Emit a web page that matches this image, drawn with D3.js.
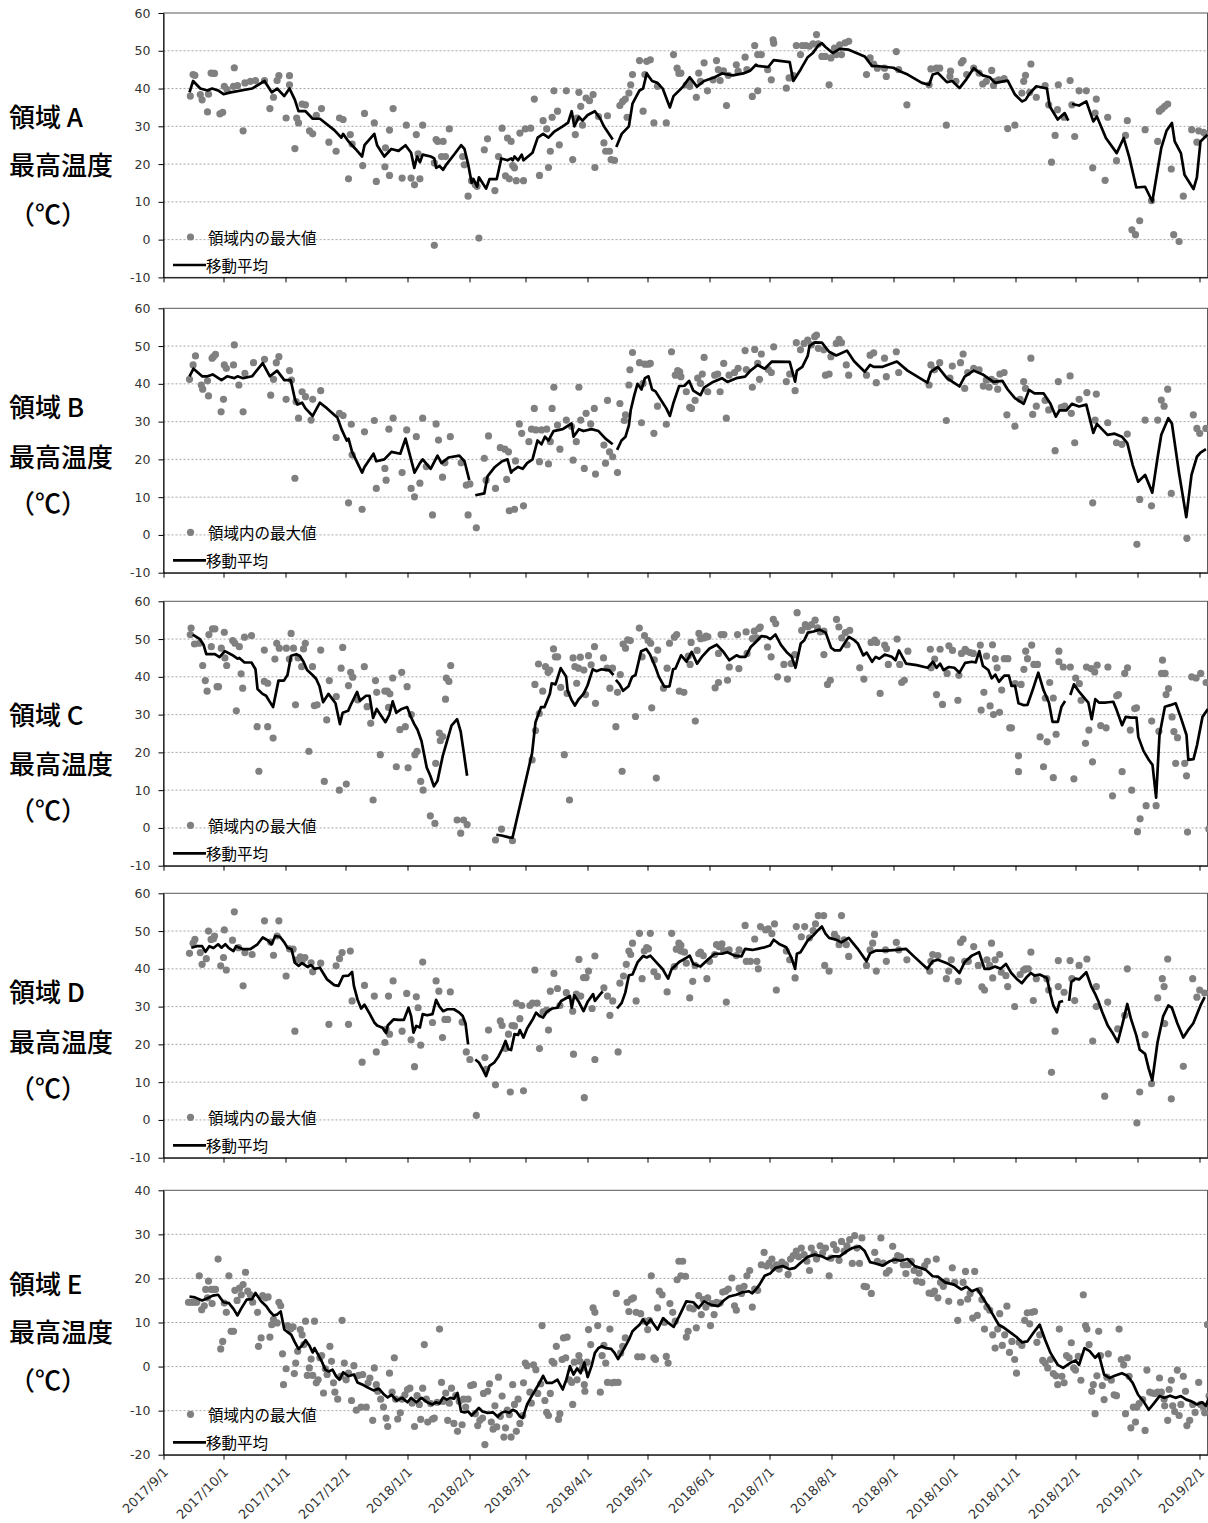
<!DOCTYPE html>
<html>
<head>
<meta charset="utf-8">
<script src="https://cdn.jsdelivr.net/npm/d3@7"></script>
<style>
  body { margin: 0; background: #fff; }
  svg { display: block; }
</style>
</head>
<body>
<svg id="chart" width="1208" height="1523"></svg>
<script>
// Daily maximum temperature per region (dots) and its moving average (line).
// Each point is [days since 2017/9/1, °C]; null breaks the line.
const startDate = new Date(2017, 8, 1);
const endDate = new Date(2019, 1, 5);
const regionNames = ["A", "B", "C", "D", "E"];
const yTicksMain = [-10, 0, 10, 20, 30, 40, 50, 60];
const yTicksE = [-20, -10, 0, 10, 20, 30, 40];
const titleLines = ["最高温度", "（℃）"];
const legendLabels = ["領域内の最大値", "移動平均"];

const maxTempA = [[13.4,38],[14.8,43.7],[15.7,43.5],[18.4,38.4],[19.3,37],[22,33.8],[22.5,38.5],[23.8,44.1],[25,44],[25.5,44],[28.2,33.3],[29.6,33.7],[30.4,40.6],[31.8,39.7],[35,40.6],[35.4,45.5],[37,40.8],[39.8,28.8],[40.7,41.5],[43.4,41.9],[46,42.1],[50.5,42.1],[53.2,34.7],[55,37.7],[56.8,42.1],[57.7,43.4],[61.3,32.2],[63,43.4],[63,41],[65.7,24.1],[66.6,32.2],[67.5,30.9],[69.3,35.9],[71,35.7],[73,28.8],[74.6,28],[76.4,32.9],[79,34.7],[82.7,25.8],[86.3,23.4],[88,32.2],[89.8,31.8],[93.4,27.8],[94.3,25.3],[92.5,16.1],[99.6,19.6],[100.5,33.4],[105.4,30.9],[106.4,15.4],[111,24.3],[110.7,19.3],[113,29],[113,17],[114.8,34.7],[119.3,16.3],[121.4,30.3],[123.8,16.3],[125.5,14.5],[126.4,27.8],[128.2,16.1],[129.6,30.3],[127.3,22.7],[135.4,20.3],[136.3,26.5],[137.1,26],[139.8,26],[139,22],[142.9,29.3],[141,22],[149.6,22],[150.4,19.8],[152.3,11.5],[154,15.6],[155.9,14.5],[156.8,14.1],[157.7,0.4],[160.4,23.8],[162,26.7],[165.7,13],[169.3,29.5],[167.5,22],[172,26.9],[173.8,26],[171,16.9],[172.9,16.1],[174.6,19.6],[175.5,19],[176.4,15.6],[180,15.6],[178.2,28.2],[180.9,29.3],[183.6,29.5],[185.4,37.2],[188,17],[189.8,31.5],[191.6,29.3],[192.5,19.1],[193.4,23.4],[194.3,32.4],[195.2,39.4],[197,34],[197.9,25.1],[201.4,39.4],[204.6,21.2],[205.9,27.8],[206.8,32.2],[207.7,39],[208.6,35.3],[209.5,30.3],[211.3,37.5],[213,36.8],[214.8,38.4],[215.7,19.1],[217.5,32.6],[220.2,25.6],[222,32.8],[221.1,23.4],[223,23.4],[223.8,21.2],[225.5,21],[228.2,35.5],[229.6,36.6],[230.9,37.2],[231.8,32.4],[232.7,38.8],[233.6,41],[234.5,43.7],[238,47.4],[239.8,34],[240.7,43.7],[241.6,47.2],[243.4,47.6],[245.2,30.9],[247,40.6],[251.4,30.9],[255,49],[256.8,45.4],[257.7,44],[135.4,-1.5],
[258.7,44.1],[261.4,41],[263.1,41.9],[263.1,40.6],[266.4,37.7],[267.6,44.1],[270.3,46.8],[268.5,41.9],[272,39.4],[274.8,42.3],[276.5,47.4],[277.4,45],[278.3,42.1],[280,44.7],[281.5,35.5],[282.4,43.5],[286.4,46.3],[287.3,44.6],[290.8,48.3],[291.7,45],[294.4,37.9],[295.6,51.4],[297.1,39.4],[297.1,49],[298.9,49],[302.1,45],[303.9,42.3],[304.8,52.9],[305.1,52],[311.4,40.1],[312.8,42.8],[315,43.4],[316.4,51.4],[318.5,49],[319.4,51.4],[321.2,51.4],[322.9,51.2],[324.8,51.8],[326.5,54.3],[327.4,51.8],[329.2,48.5],[330.9,48.5],[332.8,41],[333.7,48.1],[335.5,50.7],[336.4,49],[338.1,51.6],[339,49],[340.8,52.1],[342.6,52.5],[351.5,43.7],[353.3,48.1],[355.1,46.5],[356.9,45.4],[360.5,45.4],[361.4,43.2],[366.4,49.8],[367.6,45],[371.7,35.7],[382.8,41],[383.7,45.2],[386.4,45.4],[388.1,45.4],[391.4,30.3],[393.2,43.2],[393.5,44.6],[396.2,41.9],[398.9,46.8],[399.8,47.4],[401.6,43.7],[405.1,45.4],[407.8,44.1],[409.6,41.2],[411.4,41.9],[414.1,44.8],[415,40.8],[415.9,41.9],[417.6,42.3],[420.3,42.6],[422.1,29.4],[425.7,30.3],[429.2,38.8],[430.1,41.9],[431,43.5],[433.7,46.5],[433.1,39],[436.4,37.7],[440.8,40.8],[442.6,35.7],[444,20.5],[445.8,27.6],[447,34.4],[447.4,41],[450.3,32.4],[453.3,42.1],[454.2,35.7],[455.6,27.3],[457.8,39.4],[461.4,39.4],[464.6,19],[465.8,33.5],[466.4,37.2],[470.8,15.7],[472.1,32.4],[476.5,20.9],[481,27.6],[481.9,31.5],[484.2,2.6],[486,1.3],[488.1,5],[490.8,29.1],[494,10.3],[497.1,26],[497.9,34],[499.2,34.6],[500.6,35.3],[502.1,35.9],[503.9,18.7],[505.1,1.3],[507.8,-0.5],[509.9,11.5],[514.1,29.1],[516.7,25.8],[517.6,28.8],[520,28.4],[521.2,27.8]];

const movAvgA = [[13,39],[14.8,42],[18.4,40],[22,39.5],[24.3,40],[27.3,39.5],[30,38.5],[33.6,39],[44.3,40],[50.5,42],[54.1,39],[56.8,40],[60.4,38],[63,40],[65.7,37],[67.5,34],[71,34],[74.6,32],[78.2,32],[85.4,29],[88.9,27],[89.8,28],[92.5,26],[96,24],[99.3,22],[100.5,25],[105.4,28],[106.8,25],[110.4,22],[113.9,24],[117.5,23.5],[121,25],[123.8,23],[125.4,19],[126.8,22],[128.2,20.5],[129.6,22.5],[133.6,22],[135.4,21.5],[136.3,19],[138,19.5],[139.8,18.5],[141.6,20],[146,23],[148.8,25],[150.5,24],[152.3,20],[154.1,15],[155,16],[156.8,14],[157.7,16.5],[161.3,13.5],[163,16],[166.6,16],[168.9,21.5],[172,21],[173.8,21.5],[174.6,21],[175.5,22],[177.3,21],[179.1,22.5],[180,21],[184.5,23],[187.1,27],[189.8,28],[192.5,27],[195.2,28.5],[199.6,30],[202.3,31],[204.1,34],[205.4,30],[207.7,32.5],[209.5,31.5],[212.1,33],[215.7,34],[218.4,32],[220.2,30],[224.6,26.5],null,[226.4,24.5],[229.1,28],[232.7,30],[234.5,36],[238,39.5],[239.8,40],[241.6,44],[244.3,42],[247,41.5],[249.6,40],[251.4,37.5],[253.2,35],[255,38],[259.6,40.4],[263.1,43],[266.7,40.5],[270.3,42],[275.6,43],[279.2,44],[284.6,43.5],[289.9,44],[293.5,44.8],[296.2,46.3],[297.1,46],[302.4,45.7],[305.1,47.5],[313.1,47],[314.9,42],[318.5,45],[322.1,48.3],[324.8,49.5],[327.4,51.4],[329.2,52],[331,51],[334.6,49.4],[338.1,50.5],[342.6,50.3],[350.6,48.5],[354.2,46],[357.8,45.9],[364.9,45.5],[368.5,44.5],[372.1,43.7],[379.2,41.5],[382.8,41],[384.6,43.7],[387.2,44.1],[391.7,41.7],[394.4,42],[398,40.1],[401.5,42.5],[405.1,45.4],[409.6,43.5],[413.1,43],[415.8,41.5],[422.1,42.1],[425.6,38.5],[429.2,36.6],[431,37],[432.8,38.5],[436.4,40.6],[441.7,40],[443.1,35.3],[447.1,31.8],[450.6,33.5],[452.4,31.5],null,[454.2,35.9],[457.8,35.5],[461.4,36.6],[464.9,31.3],[466.7,32.6],[471.2,26.9],[476.6,22.9],[480.1,26.9],[482.8,22],[486.4,13.8],[490.8,14],[494.4,10.1],[498.9,24.3],[501.5,28.8],[504.2,30.9],[505.6,26],[508.7,22.9],[510.5,17.2],[515,13.4],[516.7,16.5],[518.5,26],[522,27.8]];

const maxTempB = [[13,41.2],[14.8,45],[16,47.4],[18.9,39.7],[19.6,38.6],[22,40.8],[22.5,36.8],[24.3,46.8],[25,47.2],[26,47.8],[28.8,32.6],[30,35.9],[30.4,45],[31.4,44.1],[35,45],[35.4,50.3],[37.7,39.7],[39.8,32.6],[40.7,42.8],[45,45.6],[50.5,46.5],[53.6,37],[55,41.2],[56.4,45.6],[57.7,47.2],[61.3,35.9],[63,43.5],[64,41],[65.7,15],[66.3,35.3],[67.5,30.9],[69.3,37.9],[71,36.6],[73.8,30.4],[74.6,35.9],[78.6,38.2],[86.3,25.8],[88,32.2],[89.8,31.6],[92.5,8.5],[93.9,29.3],[94.3,21.2],[99.3,6.8],[100.5,27.3],[105.4,30.3],[106.4,12.3],[110.7,17.6],[111.3,14.5],[112.7,28],[114.8,30.9],[119.3,16.5],[121.6,27.8],[123.8,12.3],[125.5,10.1],[126.4,26],[128.2,13.7],[129.6,30.9],[131.4,18.1],[134.5,5.3],[136.3,29.4],[137.5,25.1],[139.5,15.3],[140.7,19.1],[143.4,26],[148.8,19.1],[151.4,13.2],[152.3,5.3],[153.2,13.5],[156.4,1.9],[160.4,20.3],[161.3,14.5],[162.5,26.2],[166,12.3],[168.4,23.1],[170.7,22.7],[172.5,22],[171.6,14.7],[172.9,6.4],[175.5,6.8],[176,19.6],[177.9,29.4],[179.1,26.9],[180,7.7],[182.7,24.7],[184,28],[185.4,33.5],[186.2,27.8],[188,19.4],[189,27.8],[191.6,28],[192.5,18.8],[193.4,24.7],[194.3,33.5],[195.2,39.1],[197,29.1],[198.2,22.7],[201.4,30.4],[204,28.7],[204.8,19.8],[206.4,24.7],[207.7,39.1],[208.6,30.4],[210.4,17.6],[211.3,32.2],[213.6,29.4],[215.4,33.5],[216,16.1],[220.2,23.8],[221,19],[222,35.6],[223,22],[224.6,20.7],[227,16.5],[228.2,34.8],[230.4,30.3],[231,31.8],[232.7,39.7],[233.2,43.7],[234.5,48.3],[239,29.7],[238,45.6],[239.8,40.1],[240.7,45.2],[242.5,45.2],[243.4,45.4],[245.2,26.9],[247,34.1],[251.4,29.3],[254,48.5],[255.9,42.3],[257.1,43.5],
[258.1,43.2],[258.7,41.9],[261.4,37.9],[263.1,33.8],[264,33.5],[265.8,35.6],[267.1,41.5],[268.5,40.1],[269.4,42.6],[270.3,47],[272.1,37.9],[275.6,42.3],[277.1,42.6],[278.3,37.9],[280.1,45.4],[281.4,30.9],[282.8,42.3],[285.5,43],[287.3,44.1],[290.8,48.8],[291.4,43.8],[294.4,39.1],[295.6,49.1],[297.1,45.4],[298,41.2],[298.9,47.9],[302.4,43.8],[303.9,43],[305.1,49.8],[311.4,40.6],[313.1,42.6],[315.8,38.2],[316.4,50.9],[318.5,49],[320.3,50.7],[322.1,51.6],[323.9,50.3],[325.6,52.5],[326.5,52.9],[327.4,49.4],[330.1,49],[331,42.3],[332.8,42.6],[333.7,47.2],[336.4,50.7],[337.8,51.8],[339,50.9],[341.4,45],[342.6,42.3],[351.5,42.3],[353.3,47.6],[355.1,48.2],[356.4,40.3],[360.5,46.8],[361.4,41.9],[366.4,48.5],[367.6,43],[382.8,39.7],[383.7,45],[385.5,43.7],[388.1,45.6],[391.4,30.3],[393.2,41.5],[394.4,44.7],[398.5,45.6],[399.8,47.9],[400.6,38.8],[402.1,43],[405.1,44.1],[407.8,43.7],[409.9,39.4],[411.4,41],[412.8,39.1],[414,41.2],[415.9,40.6],[417.1,38.6],[418.2,42.6],[420.3,43],[421.7,31.8],[425.7,28.8],[428.3,35.9],[430.1,40.6],[431,38.8],[433.7,46.8],[434.6,31.9],[436.4,34.1],[440.8,35.6],[442.6,33.1],[445.8,22.3],[447.4,40.6],[448.9,33.8],[450.6,34.1],[453.3,42.1],[453.9,32.2],[455.6,24.4],[457.8,35.9],[461.7,37.7],[464.6,8.5],[465.8,30.4],[466.4,37.3],[472.1,29.7],[476.5,24.4],[479.2,24],[481.9,26.7],[486.7,-2.5],[488.1,9.4],[490.8,30.4],[494,7.7],[497.1,30.4],[498.9,35.7],[500.3,34.1],[502.1,38.6],[503.9,11],[511.7,-0.9],[514.9,31.8],[516.7,28.2],[518.1,26.9],[521.2,28.2]];

const movAvgB = [[13,42],[15,44],[19.3,42],[22,42],[24.6,42.5],[29,41],[31.8,42],[35.4,41.5],[37,42],[39.8,41.5],[44.3,42],[49.6,45.5],[53.2,42],[56.8,43.5],[60.4,41],[63.6,41],[65.7,36],[67,34.5],[69.3,35],[71,33.5],[74.6,31.5],[78.2,35],[81.8,33.5],[87,31],[89,28],[91.6,25],[92.5,25.5],[94.3,22],[97,19],[99.3,16.5],[100.5,18],[105,21.5],[106.4,19.5],[110.4,20],[114,22],[118.4,21.5],[121,25.5],[123,21.5],[125.5,16.5],[128.2,19],[129.6,20],[133.6,17.5],[137,21],[139,19],[142.5,20.5],[147.9,21],[150.5,19.5],[152.9,14.5],null,[155.9,10.5],[160.4,11],[162,15.5],[165.7,18],[169.3,19.5],[172,20],[173.8,16.5],[174.6,17],[177.3,18],[179.6,17.5],[181.8,19],[184.5,20],[187,25],[189,24],[190.7,26],[192.5,25],[195,27.5],[199.6,28],[204,29.5],[205,26],[207.7,28],[210,27.5],[214,28],[217.5,27.5],[221,25.5],[224.6,24],null,[226.8,22.5],[229,25],[231,26],[232.7,29],[233.6,33],[235.4,37],[237,40],[239,38.5],[240.7,41.5],[242.5,42],[244.3,38.5],[246,38],[249.6,35],[251.4,33.5],[253.2,31.5],[255,35],[257.8,39.4],[260.5,39.5],[262.8,40.8],[264.9,38.2],[268.5,37],[270.3,39],[274.8,40.5],[279.2,41.5],[281.9,40.5],[286.4,41.5],[290.8,41.9],[293.5,43.5],[297.1,45],[300.6,44],[304.2,45.9],[313.1,45.8],[315.8,40.6],[316.7,43.5],[319.4,44.5],[322.1,47.4],[323,50],[325.6,51],[329.2,50.9],[332.8,48.5],[336.4,47.5],[341.7,48.8],[345.3,46],[350.6,43.2],[353.3,45],[355.1,44.5],[359.6,44.5],[366.7,45.9],[372,43.5],[381.9,40.3],[383.7,43.2],[387.2,44.5],[391.7,41.5],[398,39.3],[400.6,41.9],[405.1,43.5],[409.6,42.5],[415,40.5],[419.4,40.8],[422.1,38.5],[425.7,36.2],[430.1,34.7],[432.8,38.4],[435.5,37.5],[440,37.5],[443.5,34.7],[446.2,31.3],[448,33],[451.5,33],[454.2,34.7],[457.8,34],[461.4,34.5],[464.9,27],[466.7,29.4],[472,26.5],[475.6,26.8],[479.2,26],[481.9,24.3],[484.6,18.5],[487.3,14.1],[490.8,15.9],[494.4,11.2],[497.1,20.7],[498.9,26.5],[502.4,30.9],[504.2,29.5],[507.8,16.3],[511.4,4.7],[514,15.9],[516.7,20.7],[518.5,21.8],[521.2,22.7]];

const maxTempC = [[13.8,52.9],[13.4,51.2],[15.5,48.7],[17.9,48.9],[19.6,43],[20.9,39],[21.8,36.2],[22.7,51.2],[23.9,48],[24.5,52.7],[25.7,52.7],[26.8,37.4],[27.5,37.4],[28.9,47.6],[30.4,51.8],[30.7,45],[31.6,43],[34.6,49.6],[35.7,48.9],[36.4,31],[37.9,48],[38.8,40.8],[39.6,37],[40.5,50.5],[44,50.9],[46.8,26.8],[47.7,15],[50.4,47.1],[50.4,38.8],[52.1,38.3],[52.1,26.8],[54.8,23.8],[55.7,44.7],[56.6,48.9],[57.9,47.6],[61.4,47.6],[62.9,44.7],[63.8,51.5],[65,47.6],[66,32.6],[67.3,45],[69.1,42.7],[70,47.4],[70.9,48.9],[72.7,20.3],[74.5,42.7],[75.4,32.4],[76.8,32.6],[78.6,47.1],[80.4,12.3],[81.6,28.6],[82.9,39],[86.4,34.8],[87.9,10],[88.8,42.3],[89.6,47.8],[91.4,11.6],[92.5,37.7],[93.6,41.2],[94.6,39.9],[97.1,33.9],[100.4,42.7],[101.8,32.1],[103.6,27.7],[104.8,7.4],[106,39],[106.6,35.9],[108.4,19.4],[110.7,36.2],[111.9,36.2],[112.5,31.9],[113.2,35.5],[114.6,39.7],[116.4,16.2],[118.2,26],[119.1,41.2],[120.9,26.8],[121.8,37.4],[122.3,15.9],[123.9,30],[125.7,19.4],[126.8,20.3],[128.6,12.3],[129.8,10],[133.4,3.2],[136.1,17.1],[135.7,1.2],[137.9,25.1],[138.4,23.1],[139.6,24.2],[141,34.1],[141.4,39.7],[142.7,38.8],[143.6,43],[146.8,2.1],[148.6,-1.4],[150,2.1],[151.8,0.9],[166,-3.2],[169,-0.3],[174.5,-3.4],[184.3,18],[186,25.8],[185.7,38],[187.9,30.3],[187.5,43.4],[189.6,36.2],[191,42.7],[192.3,41.2],[193.2,41.8],[195,47.4],[195.9,45.3],[197.1,45.3],[198.6,37.2],[200.4,19.4],[201.8,35.6],[203,7.4],[204.8,45],[205.7,42.7],[206.6,38.3],[207.5,42.3],[208.4,45.2],[210.2,41.8],[211,35.3],[212.5,45.6],[213.8,43.2],[215.5,48],[216,33],[220,45],[221.8,42.3],[223.2,37],[224.5,42.3],[226.2,26.8],[227,35.9],[228.4,40.6],[229.3,15],[229.8,48.7],[231,47.6],[232.1,49.8],[233.4,49.6],[236,29.5],[237.9,52.9],[239.3,45.3],[240.5,50.9],[242.3,49.6],[243.6,48.9],[244.1,31.8],[245.4,44.5],[246.4,13.2],[247.1,47.1],[250,37],[251.8,42.3],[253,48.9],[255.4,50.5],[256.6,51.2],[257.9,36.2],
[260.2,35.9],[262.4,45.5],[263.3,43.3],[263.8,49.1],[265.9,28.3],[266.8,47],[267.7,51.5],[268.6,50.1],[270.4,50.3],[271.3,50.8],[272.2,50.6],[275.8,37.1],[277.5,38.5],[277.5,46.2],[278.8,51.2],[280.2,51.2],[282,39.1],[282.9,42.6],[287,51.2],[287.7,42.2],[291.3,51.9],[291.8,46.2],[294.5,50.1],[295.4,52.1],[296.6,50.3],[297.7,52.8],[298.4,53.2],[302,47.9],[303.8,45.3],[304.9,55.2],[306.1,54.1],[307,40],[310.2,43.3],[312,39.4],[313.8,43.5],[315.6,45.9],[316.8,57],[319.1,52.3],[320.9,53.8],[322.2,53.2],[324,53.8],[325.8,55],[327,53],[328.4,51.9],[330.2,52.1],[330.2,45.9],[332,38],[333.4,39.1],[336.5,55.2],[337.7,53.2],[339.1,50.3],[340.9,51.7],[341.8,48.5],[343.1,52.3],[348.1,42.4],[350.2,39.4],[353.8,49.1],[355.6,49.7],[356.6,49.1],[358.3,35.6],[360.6,48.4],[361.5,47.5],[362.4,43.3],[366.8,50],[368.1,43.3],[369.1,38.5],[370.4,39.1],[372.2,46.8],[383.4,47.3],[383.8,42.4],[385.6,44.7],[386.5,35.3],[388.3,47.3],[389.5,32.7],[391.8,40.9],[392.7,48.2],[394.5,47],[397.2,33.8],[397.7,40.4],[399,46.2],[400.8,47.3],[401.6,46.8],[403.4,46.4],[404.9,46.2],[408.4,48.4],[408.8,31.2],[410.2,35.9],[411.5,45.5],[413.3,32.3],[414.5,48.5],[415,30],[415.9,44.8],[416.8,42.4],[418,30.6],[419.1,36.5],[420.4,44.8],[422.2,44.8],[423.1,26.5],[424,26.5],[425.8,38.2],[427.5,19.1],[427.5,14.9],[428.8,38],[430.2,42],[431.1,46.8],[432,44.8],[434.1,48.4],[435.2,43.3],[437,43.3],[438.3,24.1],[440,16.2],[440.9,34.4],[441.8,22.8],[443.1,38.5],[444.9,34.4],[444.9,13.3],[446.3,24.8],[447.7,46.8],[447.7,44],[449.9,42.6],[453.4,42.6],[455.2,13],[456.1,39.7],[457.9,38.2],[458.8,33.8],[461,22.4],[461.5,42.6],[462.7,25.9],[463.8,42.2],[464.5,17.5],[465.6,41.3],[466.8,43.1],[468.6,27.1],[471.3,26.5],[472.2,42.6],[474.5,8.5],[476.6,35],[477.5,35.3],[479.3,14.9],[480.6,40.9],[482,42.4],[483.4,25.9],[484.1,10],[485.6,31.6],[486.5,31.8],[487,-1],[488.3,2.4],[491.3,5.9],[494.1,28.3],[496.3,5.9],[497.7,25.6],[499,40.9],[499.5,44.4],[500.8,40.9],[501.3,35.3],[502.5,36.9],[504.3,29.4],[505.2,25.5],[506.1,17.1],[507,23.9],[510.6,17.1],[511.5,13.8],[512,-1.1],[514.1,40],[516.3,39.7],[518.6,40.9],[521.3,38.5],[522.7,-0.3]];

const movAvgC = [[14.6,51.2],[18.2,50],[20,48.5],[21.4,46],[23.6,46],[25.7,46],[28,45.2],[30.7,46.8],[34.3,45.8],[37,44.8],[37.9,45],[40.5,43.8],[44,43.8],[46,42],[47,36.8],[49.5,35.5],[51.3,35],[53,33.5],[54.8,32],[57.5,39],[60.2,39],[62,40.5],[63.8,45.6],[66.4,46],[68.2,45.5],[70,44],[71.8,41.8],[74.5,40.5],[76.3,39.5],[78,37.5],[79.8,33.3],[82.5,35.5],[86,33],[88.2,27.5],[89.6,30.5],[92.3,31],[94,33],[96.8,36],[98.2,33.7],[101.3,35],[103,35],[104.8,29.1],[106.6,31.5],[108.4,30],[111,28],[112.9,30],[114.6,33.5],[116.4,30.5],[119.1,31.5],[121.8,32],[123.6,29.5],[125.4,27.5],[127,26],[129,23],[131.6,16],[133.4,13.8],[135.2,11],[137,12.5],[139.6,19],[142.3,24],[144,27.1],[146.8,28.8],[148.6,25.5],[150.4,19],[151.8,13.8],null,[166.4,-1.8],[169,-2],[172.7,-2.5],[174.5,-2.6],[184.3,19.8],[186,28],[188.8,32],[190.5,32],[193.2,35.5],[194.1,38.3],[196,38],[198.6,42.3],[201.3,40.1],[202.1,36.3],[204,33.9],[205.7,32.4],[207.5,34],[210,35.5],[212,37.7],[214.6,42],[216.4,41.5],[219,42],[222.7,41.8],[225,40.5],null,[226.2,39.2],[228,38.1],[229.8,36.3],[232.5,37.5],[234.3,40],[236,40.5],[238.8,46.8],[241.4,47.4],[243.2,46],[246,42.5],[247.7,40],[250.4,37.4],[253,37.5],[254.8,42],[256,42.2],[258.8,45.7],[261.5,44],[264.1,46.6],[266.8,43.5],[269.5,45.5],[273,47.5],[276.6,48.5],[280,46.6],[282.9,44.4],[286.5,45.7],[288,45.3],[291,45.3],[293.6,47.9],[296.3,49.3],[299,50.8],[301.6,50.6],[303.4,50],[306,51.2],[308.8,48.4],[311.5,46.6],[314.1,45.3],[316,42.4],[318.6,48.8],[320.4,49.7],[322.2,51.7],[325,52],[328,52.5],[331.1,51.7],[333.8,47.7],[335.6,47],[338.3,47],[341,49.3],[342.7,50.6],[345.4,49.7],[347.2,48.8],[349.9,45.7],[351.6,46.4],[354.3,44],[356.1,45.3],[357.9,44.8],[360.6,45.9],[364.1,45.3],[366,44.4],[367.7,47],[371.3,43.5],[376.6,43.1],[382,42.4],[384.7,44],[386.5,42.4],[388.3,43.5],[390,41.8],[392.7,42.6],[395.4,42.4],[398,41.1],[400.8,43.7],[404.3,44],[406.1,43.8],[407.9,46.8],[409.7,42.9],[412.4,41.8],[414.1,39.6],[415.9,40.6],[417.7,38.7],[420.4,40.3],[422.7,40.3],[424,37.6],[425.8,37.6],[427.5,33],[430.2,32.5],[432,32.6],[434.7,36.7],[437.4,41.1],[440,36.5],[442.7,33.2],[444.5,28.1],[447.2,28.1],[449,32.1],[450.8,33.6],null,[453.4,35.2],[455.2,38],[457.9,36],[460.6,34.3],[462.4,33.2],[464.1,28.8],[465.9,34.1],[467.7,33.2],[471.3,33.2],[474.9,33.4],[476.6,31.2],[479.3,27.2],[481.1,29.4],[483.8,29.2],[486.5,29.2],[487.4,24.1],[490,20.4],[492.7,18],[494.5,16.7],[496.3,8],[498,24.6],[500.7,32.1],[503.4,32.5],[506.1,33],[508.8,29],[511.5,24.6],[512.4,18],[515,18.2],[516.8,22],[519.5,29.4],[522.2,31.5]];

const maxTempD = [[13,44.1],[14.8,46.8],[15.7,47.8],[18.4,44.3],[19.3,41.2],[21.4,42.7],[22.5,50],[23.8,47.8],[25,48],[25.5,48.7],[28.6,40.8],[30,43],[30.4,50.3],[31.4,39.7],[34.5,47.6],[35.4,55.1],[37.5,45.6],[39.8,35.5],[40.7,44.3],[44.3,43.8],[50.5,52.7],[53.6,47.1],[55,43.6],[56.8,48.7],[57.7,52.7],[61.3,38.1],[63,45.3],[64.8,45.2],[65.7,23.5],[66.4,42.3],[68.4,43.2],[69.3,42.1],[70.7,43],[73.8,41.6],[74.6,39.2],[78.6,41.5],[82.7,25.3],[86.3,40.8],[88,42.7],[89.3,44.3],[92.5,25.3],[93.4,44.7],[94.3,31.5],[99.3,15.3],[100.5,35.6],[105.4,32.8],[106.4,18],[110.7,20.5],[111.3,24],[112.5,32.8],[113,22.7],[114.8,36.8],[119.3,23.5],[121.6,33.5],[123.8,21.2],[125.5,14.1],[126.4,32.6],[127.3,29.7],[128.6,19.8],[129.6,41.8],[134.5,25.8],[136.3,36.8],[137.7,34.1],[139.5,21.8],[140.7,26.6],[142.1,26.6],[143.4,33.9],[149.3,25.9],[151.4,18],[153.2,16],[156.4,1.2],[160.7,16.5],[161.3,13.4],[162.5,23.8],[166,9.3],[168.4,26.2],[169.3,25],[171,18.9],[172.5,22.7],[173.4,7.4],[174.3,25],[175.5,24.9],[176.4,30.9],[178.2,26.8],[179.1,30.3],[180,7.7],[183.2,30.3],[184.5,30.9],[185.7,39.7],[186.8,30.9],[188,18.9],[189.8,28.6],[191.6,29.1],[192.5,23.8],[193.4,34.1],[195.2,38.8],[197,34.8],[198.2,30.3],[201.4,33.7],[204.6,28.8],[205,17.4],[206.4,33.3],[207.7,42.5],[208.6,32.8],[210,37.7],[210.4,5.9],[211.3,37.7],[212.5,39.4],[214.3,29.5],[215.7,16],[215.7,43.4],[220.2,35],[222,32.8],[223.2,27.7],[224.6,31.5],[227.3,18],[228.2,36.2],[230,38.1],[231.4,41.2],[232.7,44.7],[233.6,43.8],[234.5,46.8],[236.3,31.5],[238,49.4],[239.3,37.4],[240.4,44.7],[241.6,45.6],[242.5,45.3],[243.4,49.4],[245.2,39.2],[247,38],[251.8,33.9],[254.1,49.4],[255.4,40.6],[256.4,45.2],[257.7,46.8],
[258.7,46.2],[258.7,44.7],[260.5,44.4],[261.4,41.5],[263.1,32.3],[264.6,36.7],[265.8,40.9],[267.6,44],[268.5,44.4],[269.9,43.5],[271.7,37.4],[273,42],[275.6,43.8],[276.5,46.4],[277.8,45.9],[279.2,46.6],[280.1,44.8],[281.4,31.2],[282.8,45],[286.4,43.5],[287.8,45],[290.8,51.5],[291.4,42],[293.5,42],[295.6,47.9],[296.7,42],[297.4,40],[298.5,51.2],[301,50.3],[302.4,50.6],[304.2,49.3],[305.5,51.9],[306.4,34.4],[311.4,44.7],[313.1,42.4],[315.8,37.6],[316.4,51.2],[318.9,48.5],[320.6,51.2],[323,48.2],[324.8,50.1],[326,51.9],[327.4,54.1],[330.1,54.1],[330.6,40.9],[332.8,39.4],[335.5,49.1],[336.7,48.2],[337.8,46.4],[339,54.1],[340.3,47.7],[341.4,46.4],[342.6,43.3],[351.5,40.9],[353.3,45],[354.6,46.8],[355.5,49.1],[356.4,39.4],[361,45],[361.4,42],[366.4,47],[367.6,45],[371.7,42.4],[383.1,39.4],[383.7,42],[384.6,43.8],[387.2,43.5],[391.4,37.4],[392.6,39.4],[393.9,42.4],[397.4,36.7],[398.5,47],[399.8,47.9],[400.6,42],[402.4,42],[405.1,45.9],[407.4,40.9],[409.2,35.2],[410.5,34.4],[411.7,42.4],[413.1,40.9],[414,46.8],[414.6,37.6],[415.8,42.4],[418.1,43.8],[418.9,39.1],[421.2,38.2],[422.1,35.3],[425.6,30],[428.3,38.5],[430.1,39.7],[431,40],[432.4,40],[433.7,44.4],[434.9,31.6],[436.4,37.4],[441.7,37.4],[442.6,34.4],[444,12.6],[445.8,23.5],[447.4,42.2],[447.4,35.3],[450.3,33.8],[453.3,42.2],[454.2,37.4],[455.6,31.6],[457.8,40.9],[461.7,42.6],[464.6,20.9],[466.4,35.3],[466.4,30],[470.6,6.3],[472.1,31.2],[477.1,24.1],[480.6,27.7],[481.9,40],[486.7,-0.8],[488.1,7.4],[490.8,22.6],[494,9.6],[497.1,32.3],[499.4,37.4],[500.3,35.3],[500.6,25.5],[502.1,42.6],[503.9,5.6],[509.9,14.2],[514.6,37.4],[516.7,32.5],[518.1,34.4],[520.6,33.6]];

const movAvgD = [[13.9,45.6],[16.6,46],[19.3,46],[21,44.5],[22.9,46],[25,45.5],[27.3,46.5],[29,45.6],[30.9,46.5],[32.7,45.5],[35,44.7],[36.3,46],[39.8,45.2],[43.4,45.2],[47,46.5],[49.6,48.3],[52.3,47.5],[54,46.5],[55.9,48.7],[58.2,48.5],[60.4,47],[62,45.6],[64,45.2],[65.7,41.6],[67.5,40.8],[69.3,41.5],[72,40.5],[73.8,41],[75.5,40],[78.2,40.3],[81.8,37.2],[85.4,35.7],[87.5,35.5],[89.8,38.1],[92.5,38.2],[94.3,39.2],[95.2,35.5],[97,31.9],[98.8,29.5],[100.5,30.5],[103.2,28],[105.4,25.8],[106.8,25],[109.5,24.4],[111.3,23],[112.1,25],[115,26.6],[117.5,26.5],[120.2,26.5],[122.5,29.7],[123.8,27.5],[125,23.1],[126.4,24.9],[128.2,24.5],[129.6,28],[131.8,27.7],[134.5,28],[136.3,31.8],[138,30],[139.8,28.8],[142,29.3],[145.2,29.3],[147.9,28.4],[149.6,27.5],[151,25.6],[152.3,20],null,[155.9,16],[157.7,15.2],[159.5,13.5],[161.3,11.6],[163,14.3],[165.4,15.2],[167.5,16.8],[169.3,18.7],[171,20.9],[172.5,18.7],[173.8,18.5],[175.5,22.7],[177.3,22.5],[178.2,23.8],[180,21.8],[181.8,24.2],[184.5,26.5],[186.3,28.4],[188,27.5],[189.8,27.1],[191.6,28.6],[194.3,29.5],[197,29.7],[198.8,31.5],[203.2,32.8],[204.1,29.7],[205.4,33],[207.7,31.2],[210,28.8],[212,31.2],[214.8,33.3],[215.7,31.5],[218.4,33.3],[219.6,34],null,[226.8,29.5],[229.1,31],[230.9,33.7],[232.7,38.3],[234.5,38.5],[237.1,41.8],[239.8,43.4],[241.6,43],[243.4,43.5],[246,42],[249.6,39.9],[252.3,37.4],[254.1,40],[255.1,40.4],[257.8,41.8],[261.4,42.9],[263.1,43.5],[264.9,41.3],[268.5,40.6],[272.1,42.4],[275.6,44],[279.2,44],[281.9,44.4],[285.5,43.5],[289,43.3],[290.8,45.3],[294.4,45],[297.1,45.3],[300.6,45.7],[303.3,46.2],[305.1,47.7],[307.8,46.6],[311.4,45.7],[314,42.9],[315.8,40],[316.7,44],[318.5,44.4],[322.1,47.5],[324.8,48.8],[327.4,50.3],[329.2,51.2],[331,49.3],[332.8,48.2],[336.4,47.7],[339,47],[342.6,48.2],[347.1,45.3],[351.5,42],[353.3,44.1],[356,44.8],[361.4,44.8],[366.7,45],[371.2,45.3],[375.6,43.1],[381.9,40],[384.6,42],[387.2,42.4],[391.7,41.5],[395.3,40.4],[398,38.9],[400.6,41.8],[404.2,43.5],[407.8,44.4],[410.5,40],[413.1,40],[415.8,40.6],[418.5,40],[421.2,41.3],[423.9,38.9],[426.5,37.4],[429.2,36.2],[431.9,38],[433.7,38.9],[435.5,38.2],[438.1,38.5],[441.7,37.6],[443.5,33.2],[444.9,30.3],[446.7,28.5],[448,31.2],[449.8,31.5],null,[452.8,31.5],[453.9,36.5],[456,37.4],[457.8,37.2],[461.4,39.1],[464,35.2],[465.8,33.4],[467.6,31.2],[469.4,28.5],[472.1,25],[474.8,22.8],[477.1,20.6],[479.2,24.8],[481.9,30.7],[483.7,26.8],[486.4,22.4],[488.1,18.6],[490.8,17.5],[492.6,13.6],[494.4,10.5],[497,20.5],[499.8,27.4],[502.4,30.3],[504.2,29.7],[506.9,25.6],[509.9,21.8],[512.2,23.7],[514.9,25.6],[518.5,30.3],[520.6,32.5]];

const maxTempE = [[12.5,14.6],[13.9,14.6],[15.4,14.6],[16.6,14.6],[17.9,20.6],[19.1,12.9],[20.4,13.8],[21.1,17.5],[22,15.6],[22.5,19.4],[23.8,17.5],[24.3,14.3],[25,17.5],[26,17.5],[27.3,24.4],[28.6,4],[29.6,5.7],[30.4,14.4],[31.4,12.3],[32.7,20.6],[33.8,8],[35,8],[35.7,17.3],[36.8,15],[38,17.8],[38.9,16.3],[39.8,18.6],[41,21.4],[42.1,17.1],[43.4,16.3],[44.6,14.6],[47,12.3],[47.5,4.6],[48.8,6.5],[49.6,16.1],[51,15.6],[52.3,15.8],[53.2,6.7],[54.1,9.5],[55,10.7],[56.8,9.9],[57.7,14.6],[58.6,13.8],[59.5,2.9],[60,-4.1],[61.3,-0.5],[62.1,9.3],[63.6,8.5],[64.8,9],[65.4,-1.6],[66.1,0.8],[67.1,3.5],[68.4,8.4],[69.3,7.2],[70.2,5],[71,10.3],[71.9,-2],[72.9,-0.3],[73.8,1.7],[74.6,-2],[75.5,10.3],[76.4,-3.7],[77.3,-3],[78.2,2],[79.1,2.5],[80,-6],[80.9,-0.5],[81.8,-1.8],[83.2,4.6],[84,1.2],[85,-3.7],[85.7,-5.8],[87.1,-7.4],[88.6,-2.2],[89.3,10.5],[90.4,0.8],[91.3,-3],[92.5,-1.5],[94,-7.7],[95.2,0.2],[96.4,-9.9],[97.5,-2],[98.8,-9.2],[99.6,-1.8],[101.4,-9.2],[102.3,-3.7],[103.2,-2.6],[104.6,-12.2],[105.4,-0.3],[106.4,-4.1],[107.1,-5.6],[108.6,-7.4],[110,-9.2],[111.3,-11.7],[112.1,-13.6],[113,-1.5],[114.3,-5.8],[115.4,2],[116.1,-7.4],[117.1,-11.9],[118.4,-10.5],[119.3,-7.4],[120.7,-6.4],[122,-5.2],[123.2,-4.9],[124.3,-8.3],[125.5,-13.6],[126.8,-6.6],[127.9,-8.6],[128.6,-12],[129.6,-4.9],[130.4,5],[131.4,-7.4],[132.1,-12.6],[133.6,-8.4],[134.5,-11.9],[135.4,-11.7],[136.8,-8.1],[138,8.5],[139,-3.6],[139.8,-7.9],[141.1,-6],[142.1,-12.2],[142.9,-8.3],[144,-4.9],[145.2,-12.9],[146.1,-6.6],[147,-14.7],[147.9,-7.9],[149.3,-13.2],[150,-7.4],[151.1,-9.2],[152.3,-7.4],[153.6,-4.3],[155,-4.1],[155.9,-10.7],[157.1,-13.4],[158.2,-12.2],[159.5,-11.7],[160,-6.1],[160.7,-17.7],[162.1,-5.6],[163,-3.9],[163.9,-12.6],[164.8,-14.2],[165.7,-8.9],[166.6,-13.7],[167.5,-2.4],[168.4,-11.3],[169.3,-6.7],[170.2,-16],[171,-13.9],[171.9,-9.9],[172.9,-10.9],[173.8,-16],[174.6,-4.1],[175.5,-8.6],[176.4,-14.7],[177.3,-7.4],[178.2,-12.9],[179.6,-11.1],[180,-3.7],[180.9,0.8],[181.8,0.2],[183.2,-5.8],[183.9,-8.3],[185,0.4],[186.2,-0.7],[187.1,-6.1],[188.6,-3.9],[189.3,9.3],[190.7,-7.7],[191.6,-10.4],[192.5,-11.1],[193.4,-6.1],[194.3,1.2],[195.2,0.8],[196.4,4.6],[197.5,-12],[198.2,-10.7],[199.3,1.6],[200,6.5],[201.1,2],[201.8,6.7],[202.9,-3],[204.1,-3.6],[204.6,-8.6],[205.4,1],[206.8,-3],[207.7,2.5],[208.2,1.2],[209.5,-0.3],[210.4,-4.1],[210.7,-5.6],[211.8,1],[212.5,8.4],[213.6,5],[214.8,13.3],[215.7,12.3],[217.1,9.3],[218.4,-5.8],[219.3,2.5],[220.2,4.8],[221.1,0.8],[222,-3.6],[223.2,8.5],[224.3,-3.7],[225.5,-3.6],[226.4,16.6],[227.3,-3.6],[228.6,3.1],[229.6,4.6],[230.9,6.5],[231.8,14.6],[232.7,12.5],[233.9,15.3],[235,15.6],[236.3,12.3],[237.1,2.2],[238.6,12],[239.3,2.2],[240.4,10.3],[242.1,8.4],[242.9,10.5],[243.9,20.6],[245.2,2],[246,1.6],[247,13.3],[247.9,17.1],[249.3,16.3],[250.5,10],[251.4,2.3],[252.3,0.8],[253.2,14.3],[254.6,12.3],[255.9,10.3],[256.8,19.7],[257.7,23.9],
[258.7,20.6],[259.6,23.9],[261,20.5],[261.4,6.7],[262.3,8],[263.1,13.3],[264.9,13.1],[266.4,8.8],[267.6,16.1],[268.9,11.8],[269.9,15.2],[271.2,13.5],[272.1,15.6],[273.5,9.3],[274.2,14.3],[275.3,11.8],[276.5,14.6],[278.3,14.4],[279.6,16.9],[281,17.1],[282.4,17.6],[284.2,20.1],[285.5,13.8],[286.4,12.8],[287.8,17.8],[289,16.6],[290.3,18.2],[291.7,20.6],[293.1,21.8],[294.4,13.5],[295.6,17.6],[297.1,17.3],[298.9,23.1],[300.3,25.9],[301.5,22.8],[302.8,23.5],[304.2,24.4],[305.1,22.4],[306.4,23.1],[307.8,22.1],[309.2,23.7],[311,23.1],[312.3,20.9],[313.5,24.4],[314.9,25.2],[316.4,26.2],[317.6,24.9],[318.9,26.9],[320.3,25.4],[321.7,23.9],[323,21.8],[323.9,26.9],[325.3,25.6],[326.5,24.4],[328.3,27.4],[329.6,25.8],[331,26.9],[332.8,20.6],[333.7,24.6],[335,27.7],[336.4,26.5],[337.8,24.1],[339,28.4],[340.3,26.2],[341.7,27.4],[343.1,28.8],[344.4,23.4],[345.6,29.7],[346.7,26.9],[348,23.4],[349.2,29.2],[350.3,18.2],[351.5,18.1],[353.9,16.6],[355.6,25.9],[356.9,23.9],[358.7,29.2],[359.9,23.5],[361.4,21.2],[362.8,21.8],[364.6,27.3],[365.8,24.1],[367.1,25.2],[368.5,24.9],[369.9,23.1],[371.2,21.1],[372.4,23.1],[373.9,23.9],[375.3,21.8],[376.5,19.4],[377.8,21.2],[379.2,19.1],[380.6,22.9],[381.9,23.9],[382.8,16.7],[384.2,16.6],[385.5,17.1],[386.4,24.4],[387.2,15.6],[388.5,19.1],[389.9,18.2],[391.4,19.4],[392.6,14.8],[394.4,22.4],[395.6,19.1],[397.1,10.5],[398.5,14.6],[399.8,19.1],[401,21.6],[402.1,15.3],[403.3,16.6],[404.6,11],[405.6,21.6],[406.9,11.6],[408.1,17.3],[409.2,15.2],[410.5,8.5],[411.7,13.5],[413.1,12.8],[414.6,7.2],[415.8,4.2],[417.1,8.5],[418.1,12],[419.4,4.8],[420.6,7.2],[421.7,13.7],[423,3.2],[424.2,5.7],[425.6,1.6],[426.5,-1.5],[427.8,5.5],[429.2,4.8],[430.6,10.5],[431.9,12.2],[433.1,9.7],[434.2,12.3],[435.5,12.5],[436.7,5.5],[438.1,7.2],[439.6,1.4],[440.8,0.8],[442.1,-0.3],[443.5,1.6],[444.9,-1.6],[446.2,-2.1],[447.1,-4.1],[447.9,8.5],[449.2,-2.2],[450.3,-3.7],[451.5,2.5],[452.8,2],[453.9,5.4],[455.1,-0.3],[456,-0.8],[457.4,2.3],[458.7,-3.1],[459.9,16.3],[461,9.3],[461.7,8.5],[462.8,5],[464.1,-5.6],[464.9,-4.1],[465.8,-10.7],[466.7,-2.1],[467.6,8],[468.5,2.5],[469.4,-4.3],[470.3,-7.5],[471.7,-2.4],[472.4,2.9],[473.9,-3.1],[475.3,-6.4],[476.5,-6.6],[477.8,8.5],[478.9,1.6],[480.1,0.4],[481,-10.7],[481.9,2],[482.8,-2.2],[483.7,-13.9],[484.9,-9.2],[486,-12.6],[486.7,-9.2],[487.8,-8.4],[489.6,-7.5],[490.8,-14.5],[491.7,-0.8],[493.1,-5.8],[494.4,-6],[495.6,-6.1],[497.1,-5.8],[498,-2.6],[498.9,-5.8],[500.3,-7.4],[500.6,-8.9],[502.1,-12.2],[502.8,-5.2],[503.9,-3.1],[504.6,-8.9],[505.6,-10.2],[506.9,-0.8],[507.8,-11.1],[508.7,-8.6],[509.9,-2.2],[511,-5.6],[511.7,-13.4],[513.1,-12.2],[514.6,-8.6],[515.8,-10.4],[517.6,-3.6],[518.5,-8.6],[519.9,-9.2],[520.6,-10.5],[522,9.5],[522.8,-6.6]];

const movAvgE = [[13,15.9],[15.7,15.7],[19.3,15],[22,15.5],[24.6,16.1],[27.3,16.3],[30,14.6],[32.7,14.4],[35,13.1],[37,11.6],[38.9,13.2],[41.6,15.2],[44.3,15.3],[46,16.7],[48.8,14.8],[51.4,13.7],[53.2,12.5],[55,11.6],[56.8,11.8],[58.6,12.5],[60.4,8.4],[62.1,7.8],[63.9,7.2],[65.7,5.5],[67.5,4],[69.3,4.8],[71,6],[72.9,4.8],[74.6,3.2],[75.5,4.2],[77.3,2.7],[79.1,1.2],[80.9,-0.7],[82.7,-1.1],[84.5,-0.7],[86.3,-2.2],[88,-3],[89.8,-1.3],[92.5,-2.2],[95.2,-1.8],[97,-3.6],[99.6,-4.1],[101.4,-4.6],[103.2,-5],[105,-5.4],[107.7,-5],[110.4,-6.4],[112.1,-7],[114,-6.4],[116.6,-7.7],[119.3,-7.1],[122,-8.1],[123.8,-7.1],[126.4,-8.1],[129,-7.1],[131.8,-8.1],[134.5,-8.6],[136.3,-8.1],[138,-8.4],[139.8,-7],[141.6,-7.5],[143.4,-7.1],[145.2,-7.3],[147,-6],[148.8,-10.2],[150.5,-10.4],[152.3,-10.2],[154.1,-11.1],[156,-10.2],[157.7,-9.4],[159.5,-10.2],[162.1,-10.5],[164.8,-10.4],[167.1,-11.4],[169,-10.5],[171,-10.2],[172.9,-10.5],[174.6,-9.8],[176.4,-10.2],[178.2,-11.3],[179.6,-11.7],[181.8,-8.6],[183.6,-7.1],[186.2,-5.1],[188,-3.7],[189.8,-2.1],[191.6,-3.7],[194.3,-3.7],[197,-3],[199.6,-5.2],[201.4,-3],[203.2,0.1],[205,-1.8],[206.8,-0.4],[208.6,-1.5],[210.4,0.9],[212.1,-2.4],[214,0.1],[215.7,3.1],[217.5,4.2],[219.3,4.6],[221,4.2],[223.8,4],[225.5,3.1],[227.3,1.7],[229.1,3.1],[230.9,4.6],[232.7,6.1],[234.5,8],[236.3,8.8],[238,9.5],[239.8,10.7],[241.6,9.5],[243.5,10.7],[245.3,9.5],[247,8.4],[249.8,11],[252.4,9.9],[255.1,9],[257.8,11.4],[261.4,14.8],[264.9,14.6],[267.6,13.3],[270.3,14.8],[273.9,14],[277.4,13.7],[280.1,15],[282.8,15.9],[286.4,16.3],[289.9,16.9],[292.6,17.1],[294.4,16.6],[296.2,17.5],[298,18.6],[300.6,20.6],[303.3,21.1],[306,22.4],[309.6,22.8],[313.1,22.1],[315.8,22.4],[319.4,23.9],[322.1,24.9],[325.6,25.4],[329.2,25],[331.9,24.4],[334.6,25],[338.1,25],[341.7,26.2],[344.4,26.9],[348,27.3],[350.6,26.2],[353.3,23.7],[356,23.4],[359.6,22.9],[363.1,23.9],[365.8,24.3],[368.5,24],[372.1,24.4],[375.6,22.8],[378.3,22.4],[381,22],[384.6,20.5],[387.2,20.4],[390.8,19.1],[395.3,18.6],[398.9,17.5],[401.5,18.1],[404.2,17.1],[406.9,17.6],[409.6,15.6],[412.3,13.7],[414.9,11.6],[417.6,9.5],[420.3,8.8],[423.9,7.6],[426.5,6.7],[429.2,5.5],[431.9,5.7],[435.5,8],[438.1,9.5],[440.8,6.1],[443.5,3.1],[447.1,0.4],[449.8,-0.3],[453.3,0.8],[456,1.4],[457.8,0.4],[460.5,4.2],[463.1,3.5],[465.8,2],[467.6,2.9],[470.3,-1.8],[473,-2.6],[475.6,-2.1],[479.2,-1.5],[481.9,-2.1],[484.6,-3.7],[487.3,-6.4],[490,-7.9],[492.6,-9.8],[495.3,-8.3],[498,-6.7],[500.6,-7.1],[503.3,-6.6],[506,-7.1],[508.7,-6.7],[511.4,-7.5],[514,-7.9],[516.7,-8.6],[519.4,-8.1],[521.2,-8.9],[523,-6.7]];

// ---------------------------------------------------------------------
const svg = d3.select("#chart");
const X0 = 163.5, X1 = 1207.5, PANEL_H = 264.4;
const FONT_NUM = "'DejaVu Sans', Verdana, sans-serif";
const FONT_JP = "'Noto Sans CJK JP', 'Noto Sans', sans-serif";

const x = d3.scaleTime().domain([startDate, endDate]).range([X0, X1]);
const toDate = d => new Date(startDate.getTime() + d * 864e5);
const monthTicks = d3.timeMonth.range(startDate, new Date(2019, 1, 2));
const fmtDate = d3.timeFormat("%Y/%-m/%-d");

const panels = [
  { top: 13,    yTicks: yTicksMain, max: maxTempA, avg: movAvgA, titleDy: [102, 150, 199] },
  { top: 308.3, yTicks: yTicksMain, max: maxTempB, avg: movAvgB, titleDy: [97, 147, 193] },
  { top: 601.3, yTicks: yTicksMain, max: maxTempC, avg: movAvgC, titleDy: [112, 161, 207] },
  { top: 893.3, yTicks: yTicksMain, max: maxTempD, avg: movAvgD, titleDy: [97, 147, 193] },
  { top: 1190.3, yTicks: yTicksE,   max: maxTempE, avg: movAvgE, titleDy: [92, 140, 188] }
];

panels.forEach((p, i) => {
  const y = d3.scaleLinear()
    .domain(d3.extent(p.yTicks))
    .range([p.top + PANEL_H, p.top]);
  const g = svg.append("g").attr("class", "panel-" + regionNames[i]);

  // dashed horizontal grid
  g.append("g").selectAll("line")
    .data(p.yTicks.slice(1, -1))
    .join("line")
    .attr("x1", X0).attr("x2", X1)
    .attr("y1", d => y(d)).attr("y2", d => y(d))
    .attr("stroke", "#a6a6a6")
    .attr("stroke-width", 1)
    .attr("stroke-dasharray", "2,2");

  // plot frame
  g.append("rect")
    .attr("x", X0).attr("y", p.top)
    .attr("width", X1 - X0).attr("height", PANEL_H)
    .attr("fill", "none")
    .attr("stroke", "#595959")
    .attr("stroke-width", 1);

  // daily maxima
  g.append("g").selectAll("circle")
    .data(p.max)
    .join("circle")
    .attr("cx", d => x(toDate(d[0])))
    .attr("cy", d => y(d[1]))
    .attr("r", 3.6)
    .attr("fill", "#808080");

  // moving average
  const line = d3.line()
    .defined(d => d !== null)
    .x(d => x(toDate(d[0])))
    .y(d => y(d[1]));
  g.append("path")
    .datum(p.avg)
    .attr("d", line)
    .attr("fill", "none")
    .attr("stroke", "#000")
    .attr("stroke-width", 2.7)
    .attr("stroke-linejoin", "round");

  // y axis (plain hyphen for negatives)
  const yAxis = g.append("g")
    .attr("transform", `translate(${X0},0)`)
    .call(d3.axisLeft(y).tickValues(p.yTicks).tickSize(5).tickSizeOuter(0).tickPadding(8)
      .tickFormat(d => String(d)));
  yAxis.select(".domain").attr("stroke", "#000");
  yAxis.selectAll(".tick line").attr("stroke", "#000");
  yAxis.selectAll("text")
    .attr("font-family", FONT_NUM)
    .attr("font-size", 12.5)
    .attr("fill", "#333");

  // x axis: month ticks on every panel, date labels on the last one
  const xAxis = g.append("g")
    .attr("transform", `translate(0,${p.top + PANEL_H})`)
    .call(d3.axisBottom(x).tickValues(monthTicks).tickSize(5).tickSizeOuter(0)
      .tickFormat(i === panels.length - 1 ? fmtDate : () => ""));
  xAxis.select(".domain").attr("stroke", "#000");
  xAxis.selectAll(".tick line").attr("stroke", "#000");
  xAxis.selectAll("text")
    .attr("font-family", FONT_NUM)
    .attr("font-size", 13)
    .attr("fill", "#333")
    .attr("text-anchor", "end")
    .attr("x", 0).attr("y", 0).attr("dy", "0.35em")
    .attr("transform", "translate(2,15) rotate(-45)");

  // legend
  const lg = g.append("g").attr("font-family", FONT_JP).attr("font-size", 15.5).attr("fill", "#000");
  lg.append("circle").attr("cx", 190.5).attr("cy", p.top + 224).attr("r", 3.6).attr("fill", "#808080");
  lg.append("text").attr("x", 208).attr("y", p.top + 224).attr("dominant-baseline", "central")
    .text(legendLabels[0]);
  lg.append("line").attr("x1", 173).attr("x2", 206)
    .attr("y1", p.top + 252).attr("y2", p.top + 252)
    .attr("stroke", "#000").attr("stroke-width", 2.7);
  lg.append("text").attr("x", 206).attr("y", p.top + 252).attr("dominant-baseline", "central")
    .text(legendLabels[1]);

  // region title on the left
  const tg = g.append("g").attr("font-family", FONT_JP).attr("font-size", 26)
    .attr("font-weight", 500).attr("fill", "#000");
  [`領域 ${regionNames[i]}`, titleLines[0], titleLines[1]].forEach((t, k) => {
    tg.append("text")
      .attr("x", 9)
      .attr("y", p.top + p.titleDy[k])
      .attr("dominant-baseline", "central")
      .text(t);
  });
});
</script>
</body>
</html>
